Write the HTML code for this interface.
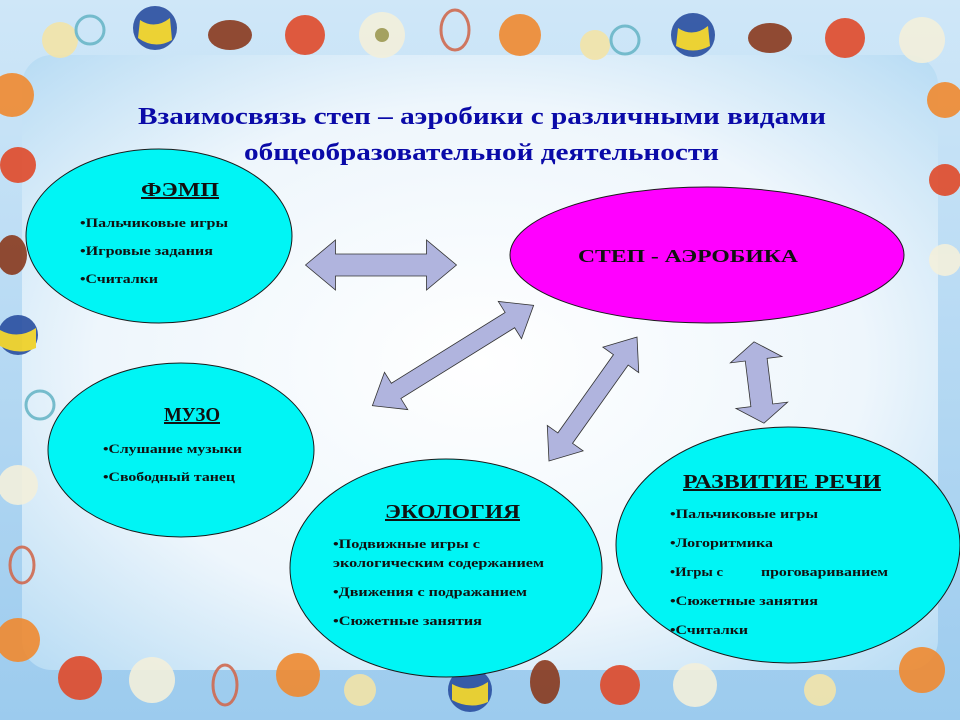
<!DOCTYPE html>
<html><head><meta charset="utf-8"><style>
html,body{margin:0;padding:0;}
body{width:960px;height:720px;overflow:hidden;}
svg text{font-family:"Liberation Serif","DejaVu Serif",serif;font-weight:bold;}
</style></head><body>
<svg width="960" height="720" viewBox="0 0 960 720" xmlns="http://www.w3.org/2000/svg">
<defs>
<radialGradient id="bg" cx="50%" cy="50%" r="70%">
<stop offset="0" stop-color="#ffffff"/><stop offset="0.6" stop-color="#eef6fc"/><stop offset="1" stop-color="#b8dcf4"/>
</radialGradient>
<linearGradient id="frame" x1="0" y1="0" x2="0" y2="1">
<stop offset="0" stop-color="#cfe7f8"/><stop offset="1" stop-color="#9ccbee"/>
</linearGradient>
</defs>
<rect width="960" height="720" fill="url(#frame)"/>
<rect x="22" y="55" width="916" height="615" rx="30" fill="url(#bg)"/>
<g opacity="0.9">
<circle cx="60" cy="40" r="18" fill="#f3e4a8"/>
<circle cx="90" cy="30" r="14" fill="none" stroke="#6bb7c8" stroke-width="3"/>
<circle cx="155" cy="28" r="22" fill="#2a4fa0"/><path d="M140 20 Q155 30 170 18 L172 40 Q155 50 138 38Z" fill="#f0d020"/>
<ellipse cx="230" cy="35" rx="22" ry="15" fill="#8a3a1e"/>
<circle cx="305" cy="35" r="20" fill="#e04a2a"/>
<circle cx="382" cy="35" r="23" fill="#f3f0dc"/><circle cx="382" cy="35" r="7" fill="#a09a50"/>
<ellipse cx="455" cy="30" rx="14" ry="20" fill="none" stroke="#d06a50" stroke-width="3"/>
<circle cx="520" cy="35" r="21" fill="#f08a30"/>
<circle cx="595" cy="45" r="15" fill="#f3e4a8"/>
<circle cx="625" cy="40" r="14" fill="none" stroke="#6bb7c8" stroke-width="3"/>
<circle cx="693" cy="35" r="22" fill="#2a4fa0"/><path d="M678 28 Q693 38 708 26 L710 46 Q693 55 676 46Z" fill="#f0d020"/>
<ellipse cx="770" cy="38" rx="22" ry="15" fill="#8a3a1e"/>
<circle cx="845" cy="38" r="20" fill="#e04a2a"/>
<circle cx="922" cy="40" r="23" fill="#f3f0dc"/>
<circle cx="12" cy="95" r="22" fill="#f08a30"/>
<circle cx="18" cy="165" r="18" fill="#e04a2a"/>
<ellipse cx="12" cy="255" rx="15" ry="20" fill="#8a3a1e"/>
<circle cx="18" cy="335" r="20" fill="#2a4fa0"/><path d="M0 330 Q18 340 36 328 L36 348 Q18 356 0 346Z" fill="#f0d020"/>
<circle cx="40" cy="405" r="14" fill="none" stroke="#6bb7c8" stroke-width="3"/>
<circle cx="18" cy="485" r="20" fill="#f3f0dc"/>
<ellipse cx="22" cy="565" rx="12" ry="18" fill="none" stroke="#d06a50" stroke-width="3"/>
<circle cx="18" cy="640" r="22" fill="#f08a30"/>
<circle cx="945" cy="100" r="18" fill="#f08a30"/>
<circle cx="945" cy="180" r="16" fill="#e04a2a"/>
<circle cx="945" cy="260" r="16" fill="#f3f0dc"/>
<circle cx="80" cy="678" r="22" fill="#e04a2a"/>
<circle cx="152" cy="680" r="23" fill="#f3f0dc"/>
<ellipse cx="225" cy="685" rx="12" ry="20" fill="none" stroke="#d06a50" stroke-width="3"/>
<circle cx="298" cy="675" r="22" fill="#f08a30"/>
<circle cx="360" cy="690" r="16" fill="#f3e4a8"/>
<circle cx="470" cy="690" r="22" fill="#2a4fa0"/><path d="M452 684 Q470 694 488 682 L488 702 Q470 710 452 700Z" fill="#f0d020"/>
<ellipse cx="545" cy="682" rx="15" ry="22" fill="#8a3a1e"/>
<circle cx="620" cy="685" r="20" fill="#e04a2a"/>
<circle cx="695" cy="685" r="22" fill="#f3f0dc"/>
<circle cx="820" cy="690" r="16" fill="#f3e4a8"/>
<circle cx="922" cy="670" r="23" fill="#f08a30"/>
</g>

<text x="138" y="124" font-size="24" fill="#0a0aa8" textLength="688" lengthAdjust="spacingAndGlyphs">Взаимосвязь степ – аэробики с различными видами</text>
<text x="244" y="160" font-size="24" fill="#0a0aa8" textLength="475" lengthAdjust="spacingAndGlyphs">общеобразовательной  деятельности</text>

<g stroke="#1a1a1a" stroke-width="1">
<ellipse cx="159" cy="236" rx="133" ry="87" fill="#00f5f5"/>
<ellipse cx="707" cy="255" rx="197" ry="68" fill="#ff00ff"/>
<ellipse cx="181" cy="450" rx="133" ry="87" fill="#00f5f5"/>
<ellipse cx="446" cy="568" rx="156" ry="109" fill="#00f5f5"/>
<ellipse cx="788" cy="545" rx="172" ry="118" fill="#00f5f5"/>
</g>

<g fill="#b0b4de" stroke="#333" stroke-width="0.8">
<polygon transform="translate(381,265)" points="-75.5,0 -45.5,-25 -45.5,-11 45.5,-11 45.5,-25 75.5,0 45.5,25 45.5,11 -45.5,11 -45.5,25"/>
<polygon transform="translate(453,355.5) rotate(-31.9)" points="-95,0 -67,-22 -67,-9 67,-9 67,-22 95,0 67,22 67,9 -67,9 -67,22"/>
<polygon transform="translate(593,399) rotate(-54.6)" points="-76,0 -48,-22 -48,-9 48,-9 48,-22 76,0 48,22 48,9 -48,9 -48,22"/>
<polygon transform="translate(759,382.5) rotate(83)" points="-41,0 -23,-26 -23,-11 23,-11 23,-26 41,0 23,26 23,11 -23,11 -23,26"/>
</g>

<g fill="#111" lengthAdjust="spacingAndGlyphs">
<text x="141" y="196" font-size="20" text-decoration="underline" textLength="78" lengthAdjust="spacingAndGlyphs">ФЭМП</text>
<text x="80" y="227" font-size="13" textLength="148" lengthAdjust="spacingAndGlyphs">•Пальчиковые игры</text>
<text x="80" y="255" font-size="13" textLength="133" lengthAdjust="spacingAndGlyphs">•Игровые задания</text>
<text x="80" y="283" font-size="13" textLength="78" lengthAdjust="spacingAndGlyphs">•Считалки</text>

<text x="578" y="262" font-size="18" textLength="220" lengthAdjust="spacingAndGlyphs">СТЕП - АЭРОБИКА</text>

<text x="164" y="421" font-size="20" text-decoration="underline" textLength="56" lengthAdjust="spacingAndGlyphs">МУЗО</text>
<text x="103" y="453" font-size="13" textLength="139" lengthAdjust="spacingAndGlyphs">•Слушание музыки</text>
<text x="103" y="481" font-size="13" textLength="132" lengthAdjust="spacingAndGlyphs">•Свободный танец</text>

<text x="385" y="518" font-size="20" text-decoration="underline" textLength="135" lengthAdjust="spacingAndGlyphs">ЭКОЛОГИЯ</text>
<text x="333" y="548" font-size="13" textLength="147" lengthAdjust="spacingAndGlyphs">•Подвижные игры с</text>
<text x="333" y="567" font-size="13" textLength="211" lengthAdjust="spacingAndGlyphs">экологическим содержанием</text>
<text x="333" y="596" font-size="13" textLength="194" lengthAdjust="spacingAndGlyphs">•Движения с подражанием</text>
<text x="333" y="625" font-size="13" textLength="149" lengthAdjust="spacingAndGlyphs">•Сюжетные занятия</text>

<text x="683" y="488" font-size="20" text-decoration="underline" textLength="198" lengthAdjust="spacingAndGlyphs">РАЗВИТИЕ РЕЧИ</text>
<text x="670" y="518" font-size="13" textLength="148" lengthAdjust="spacingAndGlyphs">•Пальчиковые игры</text>
<text x="670" y="547" font-size="13" textLength="103" lengthAdjust="spacingAndGlyphs">•Логоритмика</text>
<text x="670" y="576" font-size="13" textLength="53" lengthAdjust="spacingAndGlyphs">•Игры с</text>
<text x="761" y="576" font-size="13" textLength="127" lengthAdjust="spacingAndGlyphs">проговариванием</text>
<text x="670" y="605" font-size="13" textLength="148" lengthAdjust="spacingAndGlyphs">•Сюжетные занятия</text>
<text x="670" y="634" font-size="13" textLength="78" lengthAdjust="spacingAndGlyphs">•Считалки</text>
</g>
</svg>
</body></html>
